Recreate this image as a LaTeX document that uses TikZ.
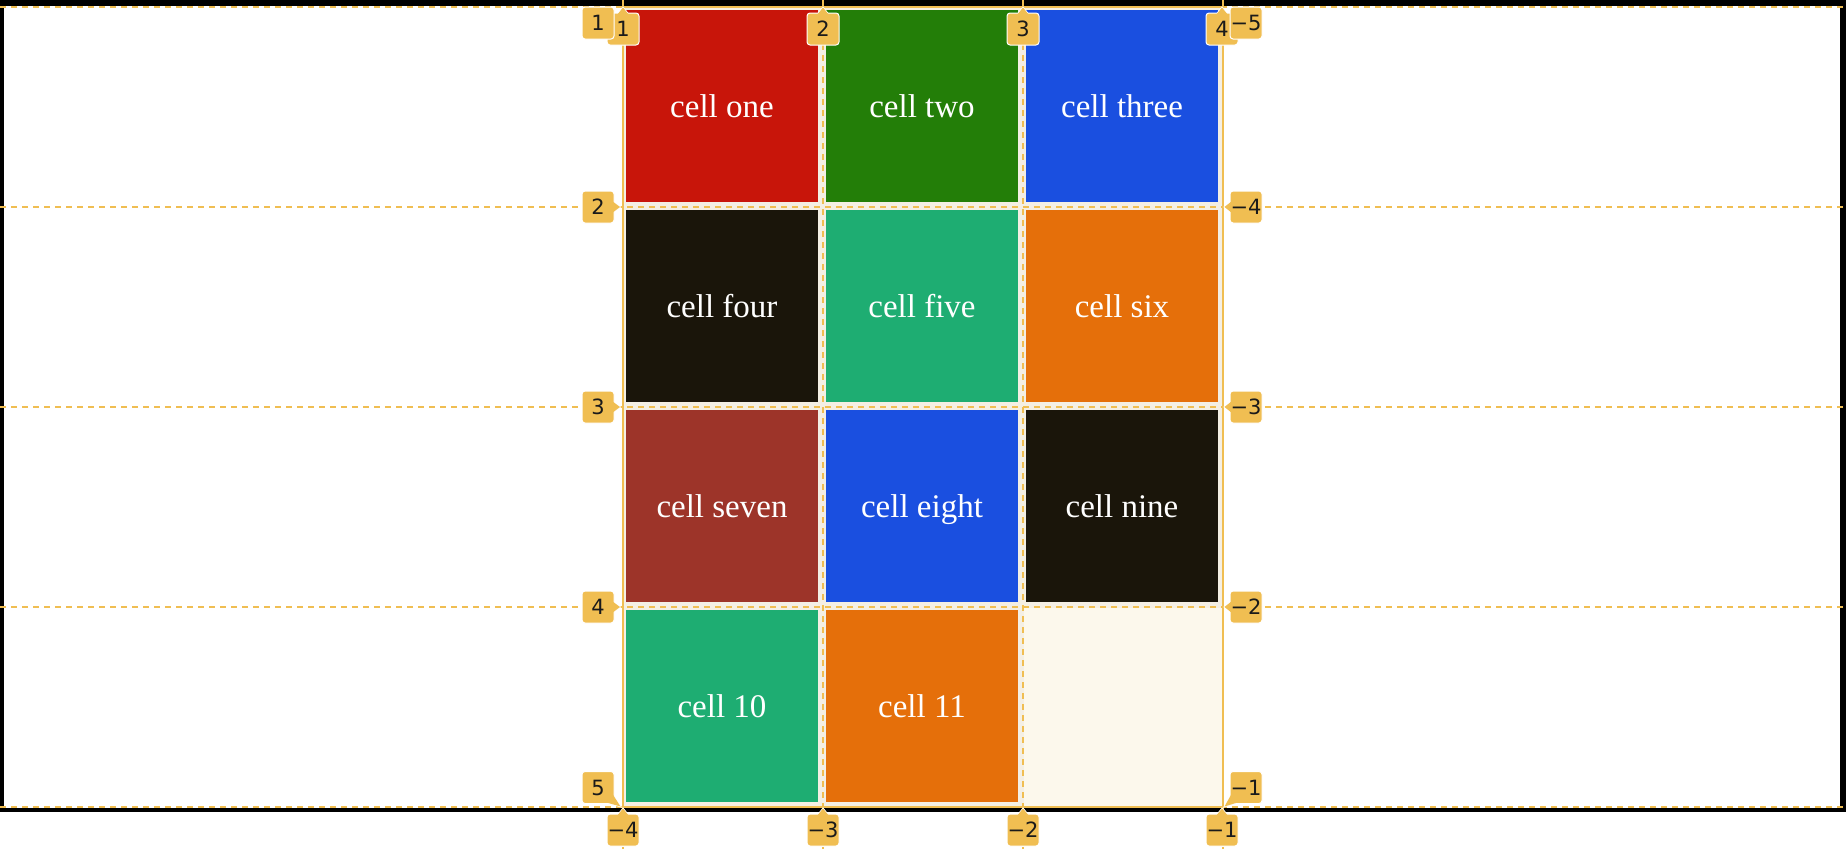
\documentclass[tikz,border=0pt]{standalone}
\usepackage{fontspec}
\newfontfamily\cellfam{Liberation Serif}
\newfontfamily\badgefam{DejaVu Sans}
\definecolor{gy}{HTML}{F0BE52}
\definecolor{gapc}{HTML}{F4EFE4}
\definecolor{creamc}{HTML}{FCF8EC}
\definecolor{cred}{HTML}{C8150A}
\definecolor{cgreen}{HTML}{237E08}
\definecolor{cblue}{HTML}{1A4FE0}
\definecolor{cblack}{HTML}{1A150A}
\definecolor{cteal}{HTML}{1EAD72}
\definecolor{corange}{HTML}{E56F0A}
\definecolor{cbrown}{HTML}{9D3429}
\definecolor{btext}{HTML}{1A1A1A}
\tikzset{
  gl/.style={draw=gy, line width=2pt},
  gdash/.style={draw=gy, line width=2pt, dash pattern=on 6pt off 5pt},
  cellbox/.style={inner sep=0pt, minimum width=192pt, minimum height=192pt, text=white,
    text height=27pt, text depth=4pt,
    font=\cellfam\fontsize{33}{40}\selectfont},
  badge/.style={fill=gy, draw=white, line width=1pt, rounded corners=3pt, minimum width=32pt,
    minimum height=32pt, inner sep=0pt, text=btext, font=\badgefam\fontsize{21}{24}\selectfont},
  ptrw/.style={fill=gy, draw=white, line width=1.5pt, line join=miter},
}
\newcommand{\mkbadge}[6]{%
  \filldraw[ptrw] #4 -- #5 -- #6 -- cycle;
  \node[badge] (#1) at #2 {#3};
  \fill[gy] #4 -- #5 -- #6 -- cycle;
}
\begin{document}
\begin{tikzpicture}[x=1pt,y=-1pt]
\useasboundingbox (0,0) rectangle (1846,849);
% frame
\fill[black] (0,0) rectangle (1846,812);
\fill[white] (4,6) rectangle (1840,808);
% grid background
\fill[gapc] (623,7) rectangle (1223,807);
\fill[creamc] (1024,608) rectangle (1222,806);
% cells
\node[cellbox, fill=cred]    (c1)  at (722,106) {cell one};
\node[cellbox, fill=cgreen]  (c2)  at (922,106) {cell two};
\node[cellbox, fill=cblue]   (c3)  at (1122,106) {cell three};
\node[cellbox, fill=cblack]  (c4)  at (722,306) {cell four};
\node[cellbox, fill=cteal]   (c5)  at (922,306) {cell five};
\node[cellbox, fill=corange] (c6)  at (1122,306) {cell six};
\node[cellbox, fill=cbrown]  (c7)  at (722,506) {cell seven};
\node[cellbox, fill=cblue]   (c8)  at (922,506) {cell eight};
\node[cellbox, fill=cblack]  (c9)  at (1122,506) {cell nine};
\node[cellbox, fill=cteal]   (c10) at (722,706) {cell 10};
\node[cellbox, fill=corange] (c11) at (922,706) {cell 11};
% grid lines
\foreach \yy in {7,207,407,607,807} { \draw[gdash] (0,\yy) -- (1846,\yy); }
\foreach \xx in {623,823,1023,1223} { \draw[gdash] (\xx,0) -- (\xx,849); }
\draw[gl] (623,7) rectangle (1223,807);
% column badges (top)
\mkbadge{t1}{(623,29)}{1}{(617,15)}{(623,7.5)}{(629,15)}
\mkbadge{t2}{(823,29)}{2}{(817,15)}{(823,7.5)}{(829,15)}
\mkbadge{t3}{(1023,29)}{3}{(1017,15)}{(1023,7.5)}{(1029,15)}
\mkbadge{t4}{(1222,29)}{4}{(1216,15)}{(1222,7.5)}{(1228,15)}
% column badges (bottom)
\mkbadge{b1}{(623,830)}{−4}{(617,816)}{(623,808.5)}{(629,816)}
\mkbadge{b2}{(823,830)}{−3}{(817,816)}{(823,808.5)}{(829,816)}
\mkbadge{b3}{(1023,830)}{−2}{(1017,816)}{(1023,808.5)}{(1029,816)}
\mkbadge{b4}{(1222,830)}{−1}{(1216,816)}{(1222,808.5)}{(1228,816)}
% row badges (left)
\node[badge] (l1) at (598,23) {1};
\mkbadge{l2}{(598,207)}{2}{(612,201)}{(620,207)}{(612,213)}
\mkbadge{l3}{(598,407)}{3}{(612,401)}{(620,407)}{(612,413)}
\mkbadge{l4}{(598,607)}{4}{(612,601)}{(620,607)}{(612,613)}
\mkbadge{l5}{(598,787.5)}{5}{(605,802)}{(612.5,794)}{(620.5,806.5)}
% row badges (right)
\node[badge] (r1) at (1246,23) {−5};
\mkbadge{r2}{(1246,207)}{−4}{(1232,201)}{(1224.5,207)}{(1232,213)}
\mkbadge{r3}{(1246,407)}{−3}{(1232,401)}{(1224.5,407)}{(1232,413)}
\mkbadge{r4}{(1246,607)}{−2}{(1232,601)}{(1224.5,607)}{(1232,613)}
\mkbadge{r5}{(1246,787.5)}{−1}{(1239,802)}{(1231.5,794)}{(1224.5,806.5)}
\end{tikzpicture}
\end{document}
